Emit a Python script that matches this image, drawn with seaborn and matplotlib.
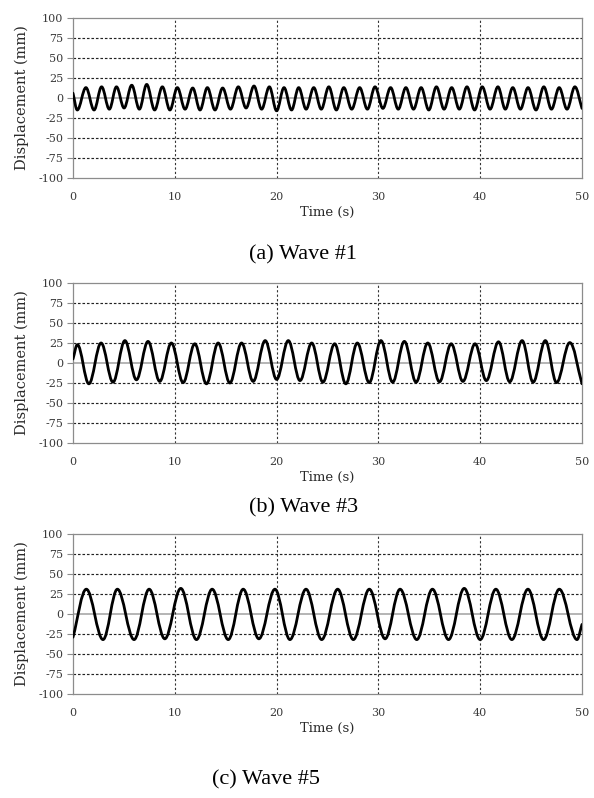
import matplotlib
matplotlib.use("Agg")
import matplotlib.pyplot as plt
from matplotlib.path import Path
from matplotlib.patches import PathPatch
import seaborn as sns

# -------- data (extrema of each record) --------
wave1_time = [0, 0.42, 1.27, 2.07, 2.81, 3.57, 4.27, 5.02, 5.77, 6.52, 7.24, 8.02, 8.78,
              9.52, 10.25, 11.01, 11.76, 12.48, 13.2, 13.95, 14.7, 15.47, 16.24, 17.0,
              17.78, 18.53, 19.29, 20.0, 20.73, 21.47, 22.17, 22.9, 23.65, 24.39, 25.13,
              25.87, 26.6, 27.38, 28.16, 28.92, 29.67, 30.44, 31.2, 31.95, 32.7, 33.45,
              34.2, 34.95, 35.7, 36.45, 37.2, 37.95, 38.7, 39.45, 40.2, 40.97, 41.74,
              42.47, 43.2, 43.95, 44.7, 45.48, 46.25, 47.0, 47.76, 48.53, 49.3, 50.0]
wave1_disp = [6, -15, 13, -15, 14, -14, 14, -12.5, 16, -14, 17, -15, 14,
              -15, 13, -14, 12.5, -15, 13, -15, 12.5, -14, 14, -12.5,
              15, -14, 14, -16, 13, -15, 13, -14, 13, -14, 14,
              -15, 13, -14, 13, -14, 14, -13, 13, -14, 13, -14,
              13, -15, 14, -14, 13, -14, 14, -15, 14, -14, 14,
              -14, 13, -14, 13, -15, 14, -14, 13, -14, 14, -13]

wave3_time = [0, 0.43, 1.56, 2.76, 3.93, 5.1, 6.23, 7.37, 8.52, 9.66, 10.82, 11.96,
              13.11, 14.26, 15.41, 16.56, 17.7, 18.88, 20.0, 21.15, 22.3, 23.45, 24.55,
              25.7, 26.8, 27.93, 29.1, 30.25, 31.4, 32.55, 33.7, 34.85, 36.0, 37.15,
              38.3, 39.5, 40.6, 41.8, 42.9, 44.12, 45.2, 46.4, 47.5, 48.8, 50.0]
wave3_disp = [5, 23, -26, 25, -24, 28, -21, 27, -23, 25, -24.5, 24,
              -26, 25, -25, 25, -23, 28, -20.5, 28, -22, 25, -24,
              24, -26, 25, -24.5, 28, -24, 27, -24, 25, -23.5, 24,
              -23, 24, -22, 26.5, -23.5, 28, -24, 28, -24.5, 25.5, -26]

wave5_time = [0, 1.31, 2.95, 4.36, 6.0, 7.48, 9.02, 10.59, 12.13, 13.67, 15.25, 16.72,
              18.26, 19.84, 21.31, 22.89, 24.43, 26.0, 27.54, 29.11, 30.66, 32.13,
              33.77, 35.31, 36.89, 38.43, 40.0, 41.54, 43.11, 44.69, 46.23, 47.77,
              49.51, 50.0]
wave5_disp = [-29, 31, -32, 31, -32, 31, -31, 32, -32, 31, -32, 31,
              -31, 31, -32, 31, -32, 31, -32, 31, -31, 31,
              -32, 31, -32, 32, -32, 31, -32, 31, -32, 31,
              -32, -13]

captions = ["(a) Wave #1", "(b) Wave #3", "(c) Wave #5"]
x_ticks = [0, 10, 20, 30, 40, 50]
y_ticks = [-100, -75, -50, -25, 0, 25, 50, 75, 100]
dashed_levels = [-75, -50, -25, 25, 50, 75]
time_grid = [10, 20, 30, 40]

# -------- style --------
sns.set_theme(style="white")
plt.rcParams["font.family"] = ["DejaVu Serif"]
plt.rcParams["axes.unicode_minus"] = False

W, H = 594, 798
fig = plt.figure(figsize=(W / 100, H / 100), dpi=100)

# axes boxes in pixels: (left, top, right, bottom)
boxes = [(73, 18, 582, 178), (73, 283, 582, 443), (73, 534, 582, 694)]
caption_pos = [(303, 255), (304, 508), (266, 780)]
waves = [(wave1_time, wave1_disp), (wave3_time, wave3_disp), (wave5_time, wave5_disp)]


def smooth_path(t, y, k=0.364):
    # spreadsheet-style smoothed line: flat tangents at the turning points
    verts = [(t[0], y[0])]
    codes = [Path.MOVETO]
    last = len(t) - 1
    for i in range(1, len(t)):
        t0, y0, t1, y1 = t[i - 1], y[i - 1], t[i], y[i]
        dt, dy = t1 - t0, y1 - y0
        c1 = (t0 + k * dt, y0 if i - 1 > 0 else y0 + k * dy)
        c2 = (t1 - k * dt, y1 if i < last else y1 - k * dy)
        verts += [c1, c2, (t1, y1)]
        codes += [Path.CURVE4] * 3
    return Path(verts, codes)


for (l, t, r, b), (tt, dd), cap, (cx, cy) in zip(boxes, waves, captions, caption_pos):
    ax = fig.add_axes([l / W, 1 - b / H, (r - l) / W, (b - t) / H])
    ax.set_xlim(0, 50)
    ax.set_ylim(-100, 100)
    ax.set_xticks(x_ticks)
    ax.set_yticks(y_ticks)

    for lev in dashed_levels:
        ax.axhline(lev, color="#222222", lw=0.85, ls=(0, (2.2, 1.6)), zorder=1)
    ax.axhline(0, color="#a0a0a0", lw=1.1, zorder=1)
    for xg in time_grid:
        ax.axvline(xg, color="#333333", lw=0.8, ls=(0, (2.0, 2.0)), zorder=1)

    ax.add_patch(PathPatch(smooth_path(tt, dd), fill=False, ec="black", lw=2.0,
                           joinstyle="round", capstyle="round", zorder=3))

    for sp in ax.spines.values():
        sp.set_color("#8c8c8c")
        sp.set_linewidth(0.9)

    ax.tick_params(axis="y", length=4, width=0.8, color="#8c8c8c", pad=3,
                   labelsize=8, labelcolor="#3a3a3a", left=True)
    ax.tick_params(axis="x", length=0, pad=10, labelsize=8, labelcolor="#3a3a3a")

    ax.set_ylabel("Displacement (mm)", fontsize=10.5, color="#2a2a2a")
    ax.yaxis.set_label_coords((22 - l) / (r - l), 0.5)
    ax.yaxis.label.set_va("center")
    ax.set_xlabel("Time (s)", fontsize=9.5, color="#2a2a2a")
    ax.xaxis.set_label_coords(0.5, -0.215)
    ax.xaxis.label.set_va("center")

    fig.text(cx / W, 1 - cy / H, cap, ha="center", va="center", fontsize=16,
             family=["Liberation Serif"], color="black")

fig.savefig("out.png", dpi=100, facecolor="white")
